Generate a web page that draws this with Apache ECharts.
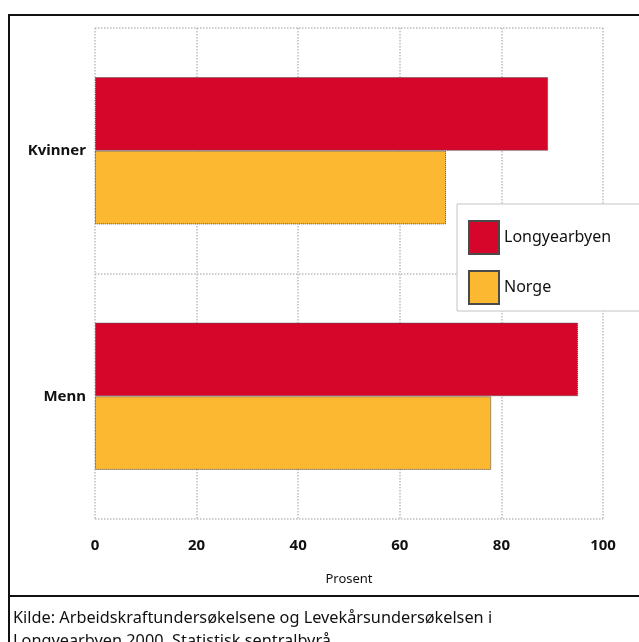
<!DOCTYPE html>
<html>
<head>
<meta charset="utf-8">
<script src="https://cdn.jsdelivr.net/npm/echarts@6/dist/echarts.min.js"></script>
<style>
  html, body { margin: 0; padding: 0; background: #fff; }
  #chart { width: 639px; height: 642px; }
</style>
</head>
<body>
<div id="chart"></div>
<script>
// kategorier og verdier (prosent)
const categories = ['Kvinner', 'Menn'];
const longyearbyen = [89.2, 95.1];
const norge = [69.1, 78.0];
const xTicks = [0, 20, 40, 60, 80, 100];
const sourceLines = [
  'Kilde: Arbeidskraftundersøkelsene og Levekårsundersøkelsen i',
  'Longyearbyen 2000. Statistisk sentralbyrå.'
];

const font = '"Noto Sans", sans-serif';
const chart = echarts.init(document.getElementById('chart'));

const option = {
  animation: false,
  backgroundColor: '#fff',
  textStyle: { fontFamily: font },
  grid: { left: 95, right: 36, top: 28, bottom: 123 },
  legend: {
    orient: 'vertical',
    left: 457,
    top: 204,
    padding: [16, 60, 6, 11],
    itemWidth: 30,
    itemHeight: 33,
    itemGap: 15,
    icon: 'rect',
    backgroundColor: '#fff',
    borderColor: '#c4c4c4',
    borderWidth: 1,
    textStyle: { fontSize: 16, color: '#111', fontFamily: font },
    data: ['Longyearbyen', 'Norge']
  },
  xAxis: {
    type: 'value',
    min: 0,
    max: 100,
    interval: 20,
    name: 'Prosent',
    nameLocation: 'middle',
    nameGap: 54,
    nameTextStyle: { fontSize: 13, color: '#111' },
    axisLine: { show: false },
    axisTick: { show: false },
    axisLabel: {
      margin: 19,
      fontSize: 15,
      fontWeight: 'bold',
      color: '#111',
      formatter: v => xTicks.includes(v) ? String(v) : ''
    },
    splitLine: { lineStyle: { color: '#bdbdbd', type: 'dotted', width: 1.5 } }
  },
  yAxis: {
    type: 'category',
    data: categories,
    inverse: true,
    axisLine: { show: false },
    axisTick: { show: false },
    axisLabel: { margin: 9, fontSize: 15, fontWeight: 'bold', color: '#111' },
    splitLine: { show: true, lineStyle: { color: '#bdbdbd', type: 'dotted', width: 1.5 } }
  },
  series: [
    {
      name: 'Longyearbyen',
      type: 'bar',
      data: longyearbyen,
      barCategoryGap: '40%',
      barGap: '0%',
      itemStyle: { color: '#d6062b', borderColor: '#4a4a4a', borderWidth: 1, borderType: 'dotted' }
    },
    {
      name: 'Norge',
      type: 'bar',
      data: norge,
      barCategoryGap: '40%',
      barGap: '0%',
      itemStyle: { color: '#fdb832', borderColor: '#4a4a4a', borderWidth: 1, borderType: 'dotted' }
    }
  ],
  graphic: [
    {
      type: 'rect',
      z: 100,
      shape: { x: 9, y: 15, width: 700, height: 700 },
      style: { fill: 'none', stroke: '#111', lineWidth: 2 },
      silent: true
    },
    {
      type: 'line',
      z: 100,
      shape: { x1: 9, y1: 596, x2: 700, y2: 596 },
      style: { stroke: '#111', lineWidth: 2 },
      silent: true
    },
    {
      type: 'text',
      z: 100,
      left: 13,
      top: 607,
      style: {
        text: sourceLines.join('\n'),
        font: '16.3px ' + font,
        lineHeight: 23,
        fill: '#111'
      }
    }
  ]
};

chart.setOption(option);
</script>
</body>
</html>
